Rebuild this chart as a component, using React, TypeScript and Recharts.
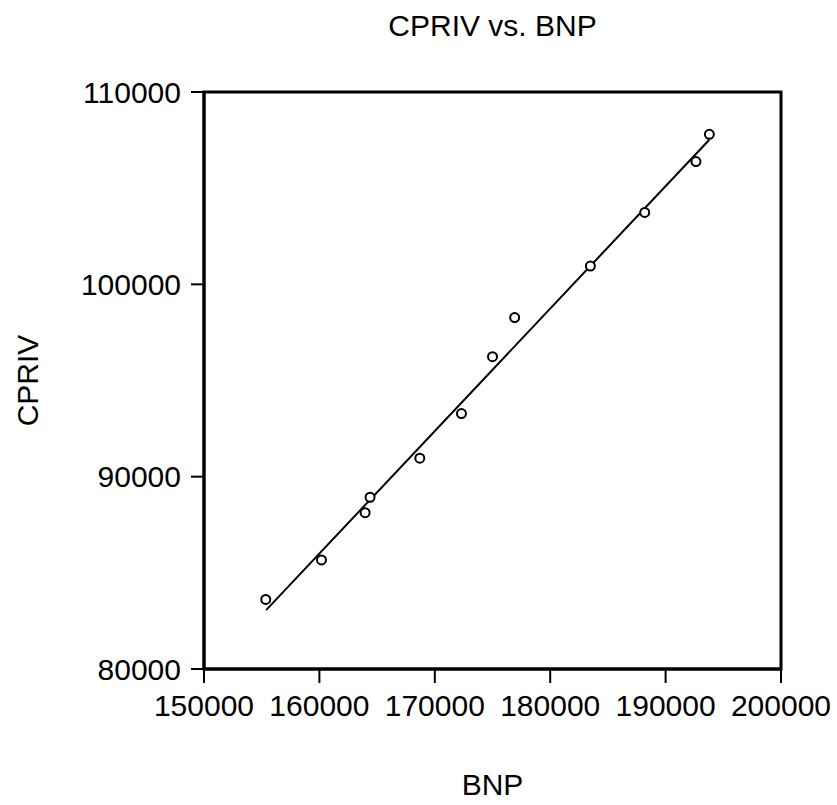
import { ScatterChart, Scatter, XAxis, YAxis, ReferenceArea } from 'recharts'

// observed values
const bnp = [155350, 160180, 163960, 164390, 168700, 172310, 175000, 176920, 183480, 188190, 192630, 193790]
const cpriv = [83620, 85670, 88130, 88930, 90960, 93280, 96240, 98270, 100950, 103740, 106380, 107800]

// fitted line, read from its two ends
const fitBnp = [155380, 193790]
const fitCpriv = [83060, 107520]

const xTicks = [150000, 160000, 170000, 180000, 190000, 200000]
const yTicks = [80000, 90000, 100000, 110000]

const FONT = '"Liberation Sans", Arial, sans-serif'

const points = bnp.map((x, i) => ({ x, y: cpriv[i] }))
const fit = fitBnp.map((x, i) => ({ x, y: fitCpriv[i] }))

const tickStyle = { fill: '#000', fontSize: 30, fontFamily: FONT }

function YLabel(props: any) {
  const vb = props.viewBox
  const x = vb.x + 27
  const y = vb.y + vb.height / 2
  return (
    <text
      x={x}
      y={y}
      transform={`rotate(-90, ${x}, ${y})`}
      textAnchor="middle"
      dominantBaseline="central"
      fontSize={30}
      fontFamily={FONT}
      fill="#000"
    >
      CPRIV
    </text>
  )
}

function XLabel(props: any) {
  const vb = props.viewBox
  return (
    <text
      x={vb.x + vb.width / 2}
      y={vb.y + 126}
      textAnchor="middle"
      fontSize={30}
      fontFamily={FONT}
      fill="#000"
    >
      BNP
    </text>
  )
}

export default function App() {
  return (
    <div style={{ position: 'absolute', left: 0, top: 0, width: 837, height: 805, background: '#fff' }}>
      <div
        style={{
          position: 'absolute',
          left: 204,
          width: 577,
          top: 8,
          textAlign: 'center',
          fontFamily: FONT,
          fontSize: 30,
          lineHeight: '36px',
          color: '#000',
        }}
      >
        CPRIV vs. BNP
      </div>
      <ScatterChart width={837} height={805} margin={{ top: 92, right: 56, bottom: 0, left: 0 }}>
        <XAxis
          type="number"
          dataKey="x"
          domain={[150000, 200000]}
          ticks={xTicks}
          allowDataOverflow
          height={136}
          tickSize={14}
          tickMargin={12}
          tick={tickStyle}
          axisLine={{ stroke: '#000', strokeWidth: 3 }}
          tickLine={{ stroke: '#000', strokeWidth: 2 }}
          interval={0}
          label={<XLabel />}
        />
        <YAxis
          type="number"
          dataKey="y"
          domain={[80000, 110000]}
          ticks={yTicks}
          allowDataOverflow
          width={204}
          tickSize={13}
          tickMargin={10}
          tick={tickStyle}
          axisLine={{ stroke: '#000', strokeWidth: 3 }}
          tickLine={{ stroke: '#000', strokeWidth: 2 }}
          interval={0}
          label={<YLabel />}
        />
        <ReferenceArea
          x1={150000}
          x2={200000}
          y1={80000}
          y2={110000}
          fill="none"
          stroke="#000"
          strokeWidth={3}
        />
        <Scatter
          data={fit}
          line={{ stroke: '#000', strokeWidth: 2 }}
          shape={() => <g />}
          isAnimationActive={false}
        />
        <Scatter
          data={points}
          shape={(p: any) => (
            <circle cx={p.cx} cy={p.cy} r={4.5} fill="#fff" stroke="#000" strokeWidth={2} />
          )}
          isAnimationActive={false}
        />
      </ScatterChart>
    </div>
  )
}
